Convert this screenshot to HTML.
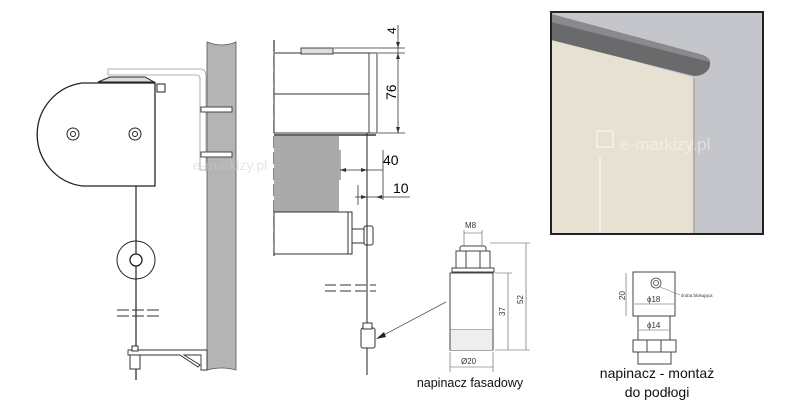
<!DOCTYPE html>
<html><head><meta charset="utf-8"><style>
html,body{margin:0;padding:0;background:#fff;width:800px;height:400px;overflow:hidden}
svg{display:block}
text{font-family:"Liberation Sans",sans-serif}
</style></head><body>
<svg width="800" height="400" viewBox="0 0 800 400" xmlns="http://www.w3.org/2000/svg">
<!-- LEFT: wall -->
<path d="M207 42 Q222 48 236 42 L236 370 Q222 366 207 370 Z" fill="#b4b4b4" stroke="#555" stroke-width="0.8"/>
<!-- top bracket -->
<path d="M108 69 L200 69 Q206 69 206 76 L206 170 L200 170 L200 78 Q200 75 196 75 L108 75 Z" fill="#fff" stroke="#999" stroke-width="0.8"/>
<g stroke="#444" stroke-width="1" fill="#fff">
<rect x="201" y="107" width="31" height="5"/><rect x="201" y="152" width="31" height="5"/>
</g>
<!-- box -->
<path d="M99 83 L155 83 L155 186 L82 186 A52 52 0 0 1 82 83 Z" fill="#fff" stroke="#222" stroke-width="1.3"/>
<path d="M98 82 L110 77 L145 77 L154 82 Z" fill="#ddd" stroke="#222" stroke-width="1"/>
<rect x="157" y="84" width="8" height="8" fill="#fff" stroke="#222"/>
<circle cx="73" cy="134" r="6" fill="#fff" stroke="#222"/><circle cx="73" cy="134" r="2.5" fill="none" stroke="#222"/>
<circle cx="135" cy="134" r="6" fill="#fff" stroke="#222"/><circle cx="135" cy="134" r="2.5" fill="none" stroke="#222"/>
<!-- cable -->
<line x1="136" y1="186" x2="136" y2="380" stroke="#222" stroke-width="1.2"/>
<circle cx="136" cy="260" r="19" fill="none" stroke="#222"/>
<circle cx="136" cy="260" r="6" fill="#fff" stroke="#222" stroke-width="1.3"/>
<g stroke="#333" stroke-width="1"><line x1="117" y1="310" x2="160" y2="310" stroke-dasharray="12 3"/><line x1="117" y1="316" x2="160" y2="316" stroke-dasharray="12 3"/></g>
<!-- bottom bracket -->
<path d="M128 350 L207 350 L207 370 L201 370 L201 355 L184 355 L200 365 L198 367 L180 355 L128 355 Z" fill="#fff" stroke="#333" stroke-width="0.9"/>
<rect x="130" y="355" width="10" height="14" fill="#fff" stroke="#333"/>
<rect x="132" y="346" width="6" height="5" fill="#fff" stroke="#333"/>

<!-- MIDDLE drawing -->
<line x1="274" y1="40" x2="274" y2="256" stroke="#333" stroke-width="1.2" stroke-dasharray="12 4"/>
<rect x="274" y="53" width="99" height="80" fill="#fff" stroke="#333" stroke-width="1"/>
<line x1="274" y1="94" x2="373" y2="94" stroke="#333"/>
<rect x="369" y="53" width="8" height="80" fill="#fff" stroke="#444"/>
<rect x="301" y="48" width="32" height="6" fill="#ddd" stroke="#444"/>
<line x1="274" y1="135" x2="376" y2="135" stroke="#333" stroke-width="1.5"/>
<rect x="274" y="136" width="65" height="76" fill="#aaa"/>
<rect x="274" y="212" width="74" height="42" fill="#fff" stroke="#333"/>
<rect x="348" y="212" width="4" height="42" fill="#fff" stroke="#333"/>
<rect x="352" y="229" width="14" height="14" fill="#fff" stroke="#333"/>
<rect x="364" y="226" width="9" height="19" rx="2" fill="#fff" stroke="#333"/>
<line x1="367" y1="133" x2="367" y2="375" stroke="#222" stroke-width="1"/>
<g stroke="#333" stroke-width="0.8">
<line x1="334" y1="48" x2="405" y2="48"/><line x1="378" y1="53" x2="405" y2="53"/><line x1="378" y1="133" x2="405" y2="133"/>
<line x1="398" y1="25" x2="398" y2="133"/>
<line x1="340" y1="150" x2="340" y2="180"/><line x1="383" y1="150" x2="383" y2="200"/>
<line x1="340" y1="170" x2="383" y2="170"/>
<line x1="358" y1="185" x2="358" y2="205"/><line x1="355" y1="197" x2="410" y2="197"/>
</g>
<g fill="#333"><path d="M340 170 l6 -2 v4z"/><path d="M367 170 l-6 -2 v4z"/><path d="M367 197 l-6 -2 v4z"/><path d="M376 197 l6 -2 v4z"/>
<path d="M398 48 l-2 -6 h4z"/><path d="M398 53 l-2 6 h4z"/><path d="M398 133 l-2 -6 h4z"/></g>
<text x="392" y="38" font-size="12" transform="rotate(-90 392 34)">4</text>
<text x="0" y="0" font-size="14" transform="translate(396 100) rotate(-90)">76</text>
<text x="383" y="165" font-size="14">40</text>
<text x="393" y="193" font-size="14">10</text>
<g stroke="#333" stroke-width="1"><line x1="325" y1="285" x2="376" y2="285" stroke-dasharray="11 4"/><line x1="325" y1="291" x2="376" y2="291" stroke-dasharray="11 4"/></g>
<rect x="361" y="328" width="14" height="20" rx="2" fill="#fff" stroke="#333"/>
<rect x="363" y="323" width="9" height="6" fill="#fff" stroke="#333"/>
<line x1="446" y1="302" x2="378" y2="338" stroke="#555" stroke-width="0.8"/>
<path d="M376 339 l8 -7 l2 5 z" fill="#222"/>

<!-- fasadowy tensioner -->
<rect x="460" y="246" width="26" height="6" rx="2" fill="#fff" stroke="#444"/>
<rect x="456" y="251" width="34" height="17" fill="#fff" stroke="#444"/>
<line x1="466" y1="251" x2="466" y2="268" stroke="#444"/><line x1="480" y1="251" x2="480" y2="268" stroke="#444"/>
<rect x="452" y="268" width="42" height="4" fill="#fff" stroke="#444"/>
<rect x="450" y="273" width="43" height="77" fill="#fff" stroke="#444"/>
<line x1="450" y1="330" x2="493" y2="330" stroke="#666"/>
<rect x="450.5" y="330" width="42" height="20" fill="#eee"/>
<g stroke="#555" stroke-width="0.6">
<line x1="464" y1="230" x2="464" y2="246"/><line x1="482" y1="230" x2="482" y2="246"/><line x1="464" y1="233" x2="482" y2="233"/>
<line x1="490" y1="243" x2="530" y2="243"/><line x1="495" y1="273" x2="512" y2="273"/><line x1="495" y1="350" x2="530" y2="350"/>
<line x1="526" y1="243" x2="526" y2="350"/><line x1="508" y1="273" x2="508" y2="350"/>
<line x1="450" y1="352" x2="450" y2="372"/><line x1="493" y1="352" x2="493" y2="372"/><line x1="450" y1="367" x2="493" y2="367"/>
</g>
<text x="465" y="228" font-size="8" fill="#333">M8</text>
<text x="0" y="0" font-size="8" fill="#333" transform="translate(523 304) rotate(-90)">52</text>
<text x="0" y="0" font-size="8" fill="#333" transform="translate(505 316) rotate(-90)">37</text>
<text x="461" y="364" font-size="8" fill="#333">Ø20</text>
<text x="470" y="387" font-size="12.5" text-anchor="middle" fill="#111">napinacz fasadowy</text>

<!-- PHOTO -->
<rect x="551" y="12" width="212" height="222" fill="#c5c6cc"/>
<path d="M551 38 L695 78 L695 234 L551 234 Z" fill="#e6e1d2"/>
<line x1="600" y1="158" x2="600" y2="234" stroke="#f4f1e8" stroke-width="2"/>
<line x1="694" y1="78" x2="694" y2="234" stroke="#666" stroke-width="0.8"/>
<path d="M551 14 L703 55 Q714 60 708 70 Q703 76 694 76 L551 40 Z" fill="#6a6a6c"/>
<path d="M551 14 L703 55 Q710 58 710 62 L551 22 Z" fill="#8a8a8c"/>
<text x="620" y="150" font-size="17" fill="#fff" fill-opacity="0.45">e-markizy.pl</text>
<rect x="597" y="131" width="16" height="16" fill="none" stroke="#fff" stroke-opacity="0.45" stroke-width="2"/>
<rect x="551" y="12" width="212" height="222" fill="none" stroke="#222" stroke-width="2"/>

<!-- floor tensioner -->
<rect x="633" y="272" width="42" height="44" fill="#fff" stroke="#444"/>
<circle cx="656" cy="283" r="5" fill="none" stroke="#444" stroke-width="0.8"/><circle cx="656" cy="283" r="2.5" fill="none" stroke="#444" stroke-width="0.8"/>
<line x1="660" y1="287" x2="680" y2="295" stroke="#666" stroke-width="0.5"/>
<text x="681" y="297" font-size="4.5" fill="#333">śruba blokująca</text>
<rect x="638" y="316" width="32" height="24" fill="#fff" stroke="#444"/>
<rect x="633" y="340" width="43" height="12" fill="#fff" stroke="#444"/>
<line x1="647" y1="340" x2="647" y2="352" stroke="#444"/><line x1="661" y1="340" x2="661" y2="352" stroke="#444"/>
<rect x="638" y="352" width="33" height="12" fill="#fff" stroke="#444"/>
<g stroke="#555" stroke-width="0.6"><line x1="626" y1="273" x2="626" y2="316"/><line x1="634" y1="304" x2="674" y2="304"/><line x1="639" y1="330" x2="669" y2="330"/></g>
<text x="0" y="0" font-size="8" fill="#333" transform="translate(625 300) rotate(-90)">20</text>
<text x="647" y="302" font-size="8" fill="#333">ϕ18</text>
<text x="647" y="328" font-size="8" fill="#333">ϕ14</text>
<text x="657" y="378" font-size="14" text-anchor="middle" fill="#111">napinacz - montaż</text>
<text x="657" y="397" font-size="14" text-anchor="middle" fill="#111">do podłogi</text>
<text x="230" y="170" font-size="14" fill="#ccc" fill-opacity="0.5" text-anchor="middle">e-markizy.pl</text>
</svg>
</body></html>
